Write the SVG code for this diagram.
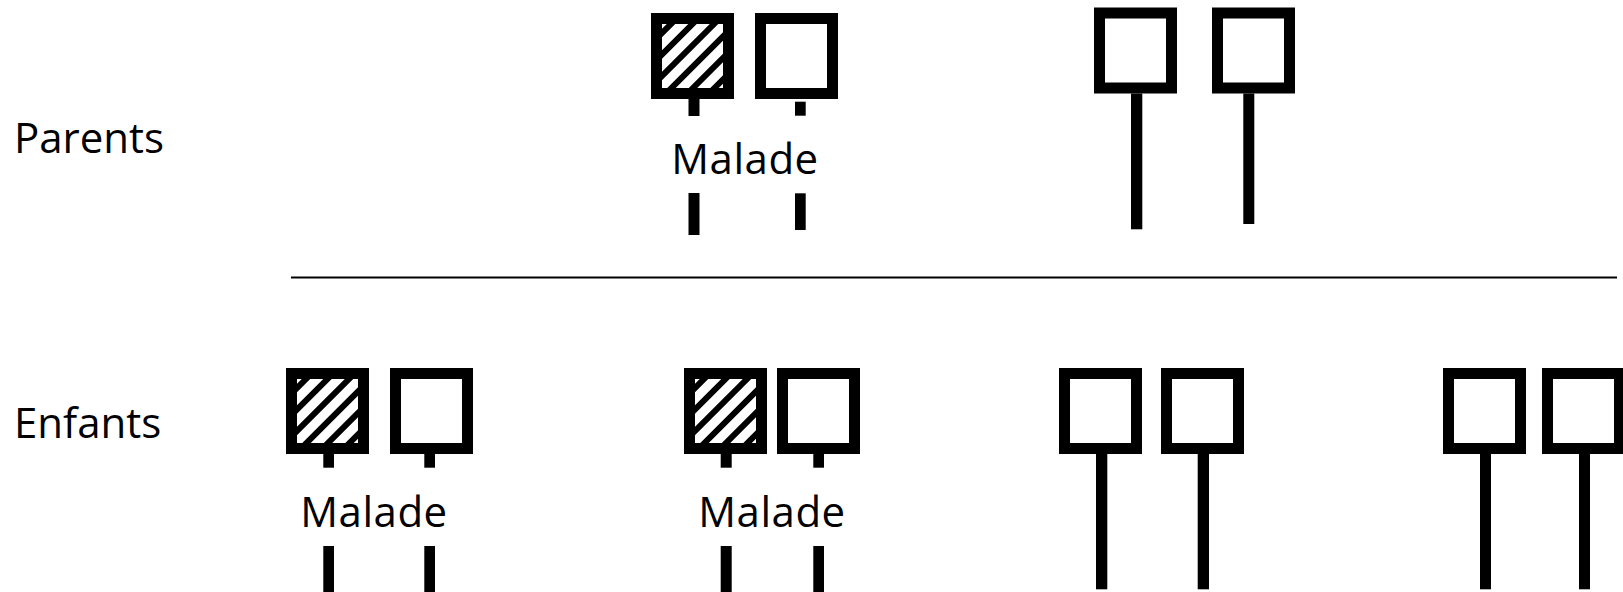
<svg xmlns="http://www.w3.org/2000/svg" width="1623" height="592" viewBox="0 0 1623 592">
<style>
.box{fill:#fff;stroke:#000;stroke-width:11}
.bar{fill:#000}
.hatch{fill:none;stroke:#000;stroke-width:6}
.lbl{font-family:"Open Sans","Noto Sans",sans-serif;font-size:42px;fill:#000}
.mal{letter-spacing:0.5px;text-anchor:middle}
.sep{stroke:#000;stroke-width:2}
</style>
<defs>
<clipPath id="inner" clipPathUnits="userSpaceOnUse"><rect x="11" y="11" width="61" height="64"/></clipPath>
<g id="hatchBox">
<rect class="box" x="5.5" y="5.5" width="72" height="75"/>
<path class="hatch" clip-path="url(#inner)" d="M31 0L-69 100M52.5 0L-47.5 100M74 0L-26 100M95.5 0L-4.5 100M117 0L17 100M138.5 0L38.5 100"/>
</g>
<rect id="plainBox" class="box" x="5.5" y="5.5" width="72" height="75"/>
</defs>
<rect width="1623" height="592" fill="#fff"/>
<g id="labels">
<text class="lbl" x="14" y="153">Parents</text>
<text class="lbl" x="14" y="438">Enfants</text>
</g>
<g id="connectors">
<line class="sep" x1="291" y1="277.5" x2="1617" y2="277.5"/>
</g>
<g id="p1" transform="translate(651,13)">
<use href="#hatchBox"/>
<rect class="bar" x="37.5" y="86" width="11" height="17"/>
<rect class="bar" x="37.5" y="180" width="11" height="42"/>
</g>
<g id="p2" transform="translate(755,13)">
<use href="#plainBox"/>
<rect class="bar" x="40" y="88.7" width="10.7" height="14"/>
<rect class="bar" x="40" y="180.3" width="10.7" height="36.7"/>
</g>
<text class="lbl mal" x="745" y="174">Malade</text>
<g id="p3" transform="translate(1094,7.5)">
<use href="#plainBox"/>
<rect class="bar" x="37" y="86" width="11.3" height="135.8"/>
</g>
<g id="p4" transform="translate(1212,7.5)">
<use href="#plainBox"/>
<rect class="bar" x="31.3" y="86" width="11" height="130.5"/>
</g>
<g id="c1" transform="translate(286,368)">
<use href="#hatchBox"/>
<rect class="bar" x="37.3" y="86" width="10.7" height="13.7"/>
<rect class="bar" x="37.3" y="178" width="10.7" height="46"/>
</g>
<g id="c2" transform="translate(390,368)">
<use href="#plainBox"/>
<rect class="bar" x="34.3" y="86" width="10.7" height="13.7"/>
<rect class="bar" x="34.3" y="178" width="10.7" height="46"/>
</g>
<text class="lbl mal" x="374" y="527">Malade</text>
<g id="c3" transform="translate(684,368)">
<use href="#hatchBox"/>
<rect class="bar" x="36.7" y="86" width="11" height="13.7"/>
<rect class="bar" x="36.7" y="178" width="11" height="46"/>
</g>
<g id="c4" transform="translate(777,368)">
<use href="#plainBox"/>
<rect class="bar" x="36.3" y="86" width="10.7" height="13.7"/>
<rect class="bar" x="36.3" y="178" width="10.7" height="46"/>
</g>
<text class="lbl mal" x="772" y="527">Malade</text>
<g id="c5" transform="translate(1059,368)">
<use href="#plainBox"/>
<rect class="bar" x="37" y="86" width="11.3" height="135.3"/>
</g>
<g id="c6" transform="translate(1161,368)">
<use href="#plainBox"/>
<rect class="bar" x="36.7" y="86" width="11.3" height="135.3"/>
</g>
<g id="c7" transform="translate(1443,368)">
<use href="#plainBox"/>
<rect class="bar" x="37" y="86" width="11" height="135.3"/>
</g>
<g id="c8" transform="translate(1542,368)">
<use href="#plainBox"/>
<rect class="bar" x="37" y="86" width="11" height="135.3"/>
</g>
</svg>
